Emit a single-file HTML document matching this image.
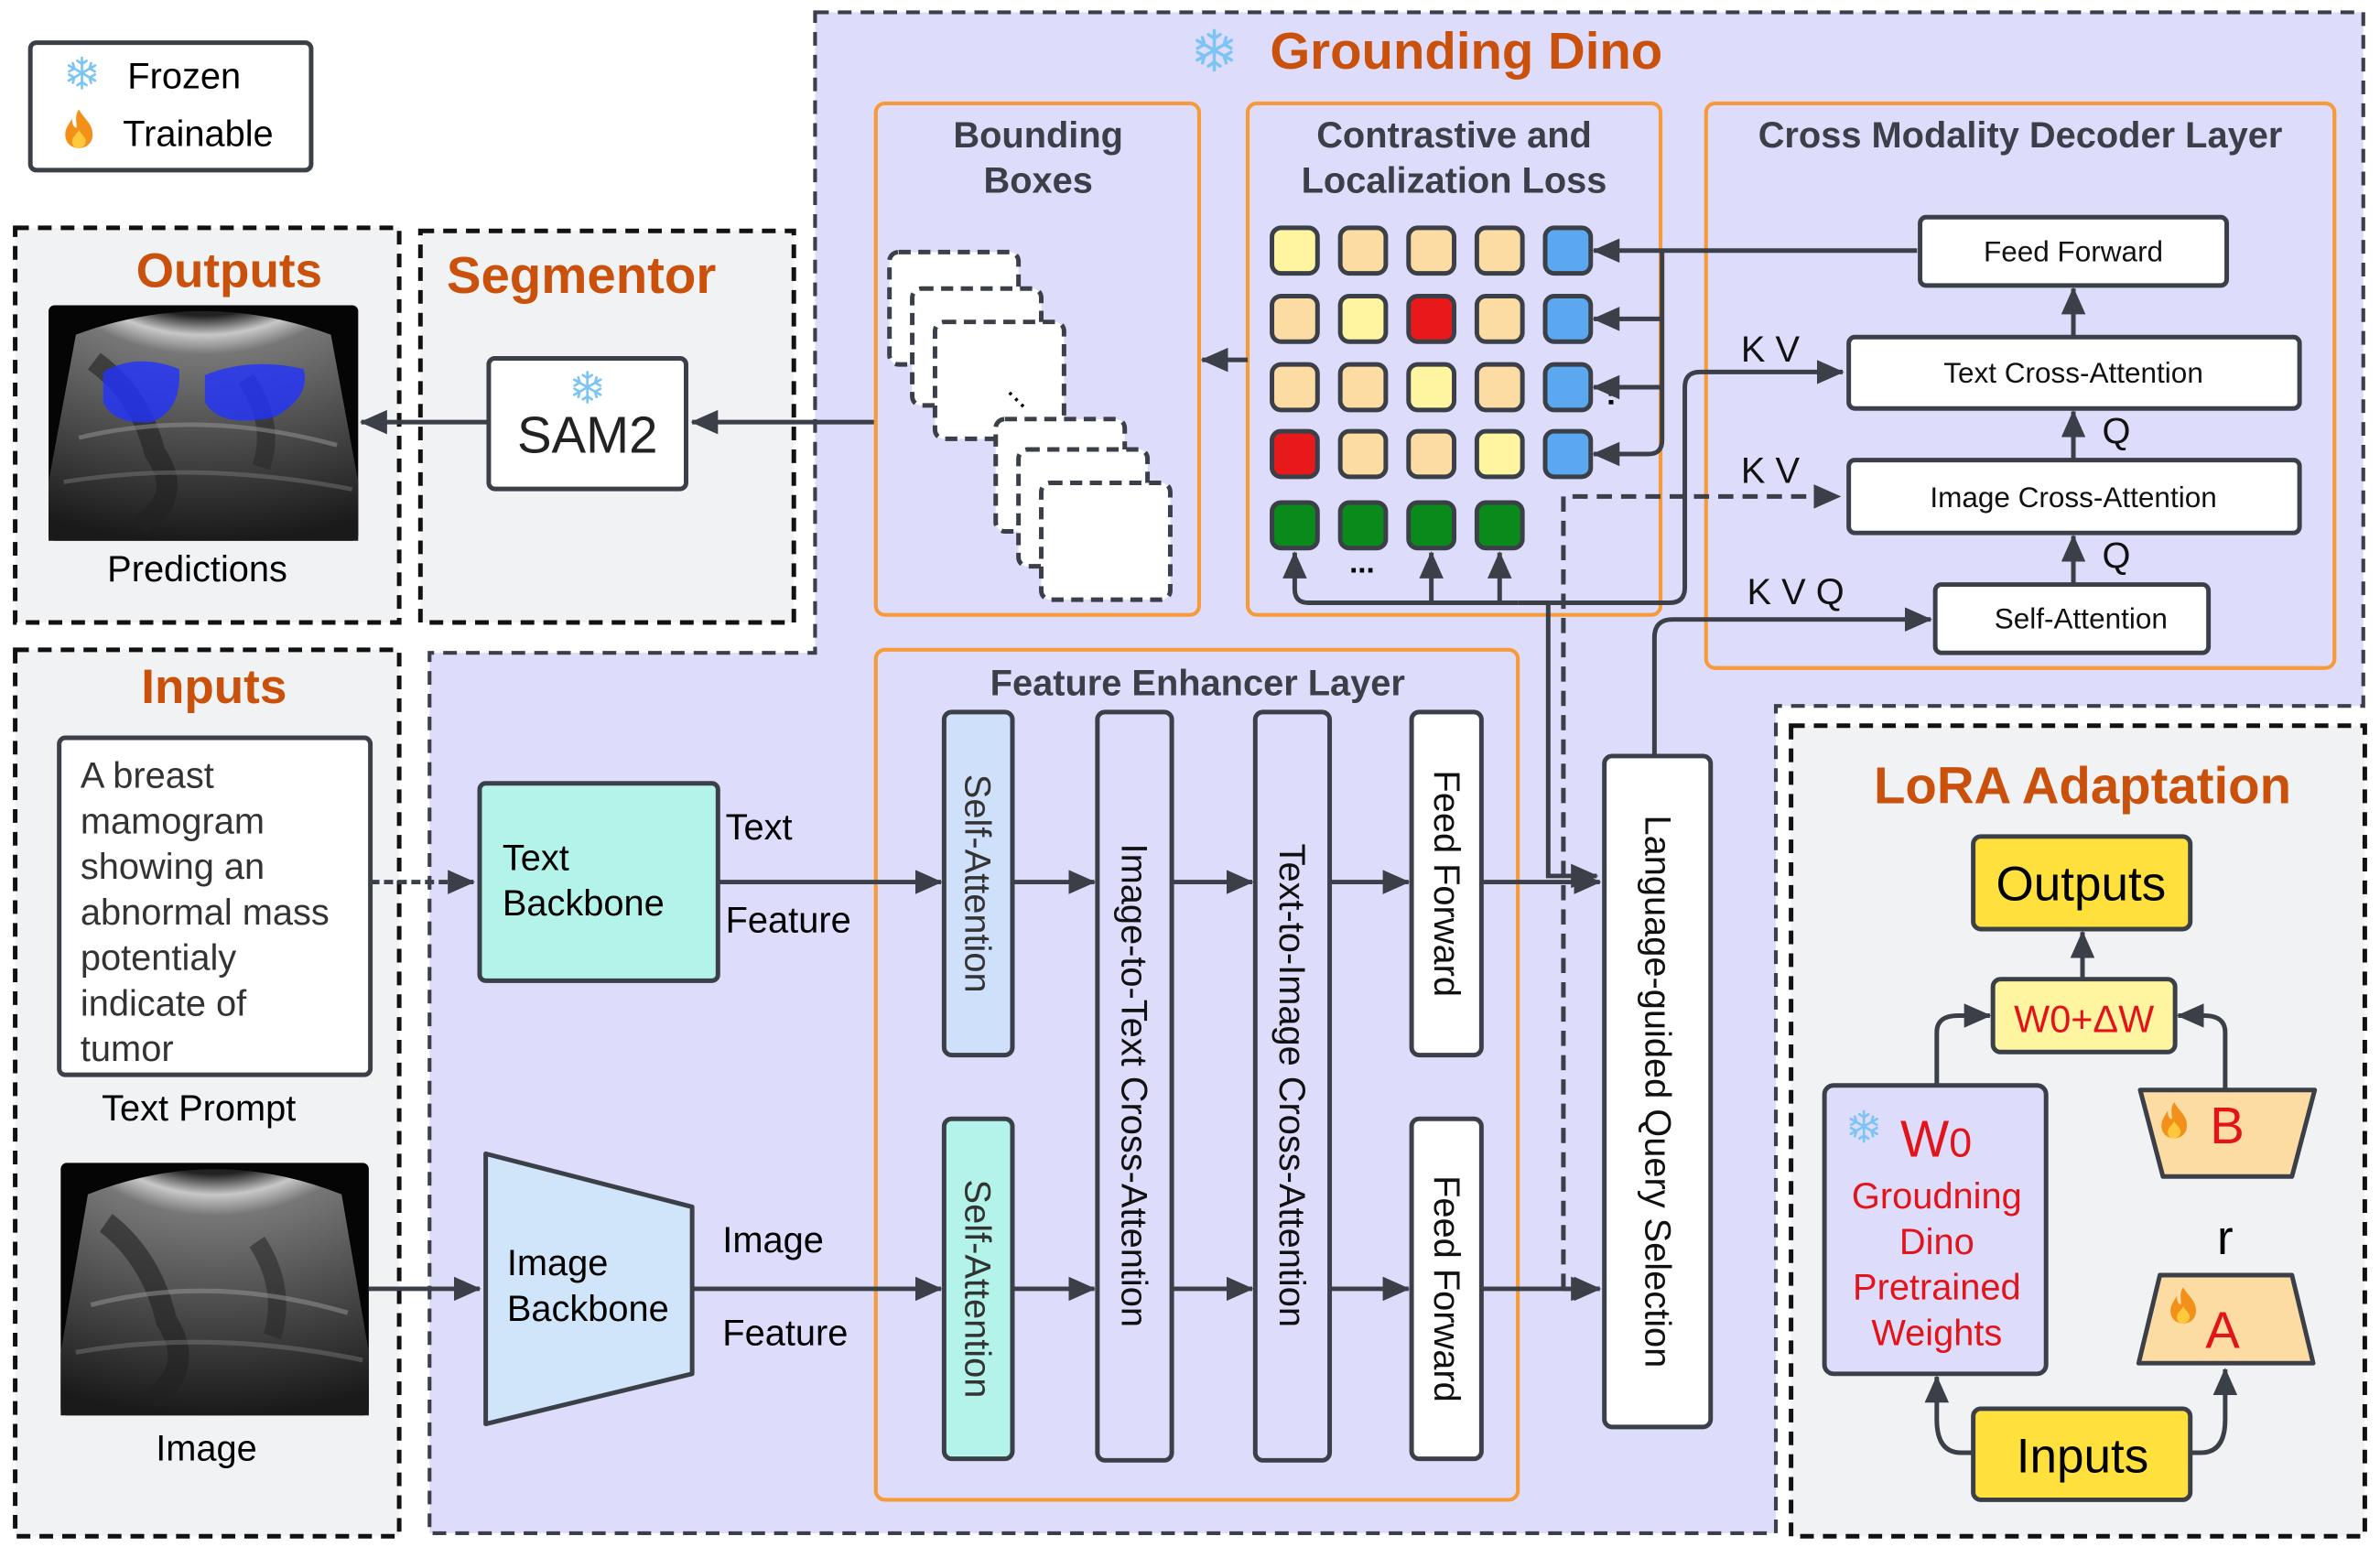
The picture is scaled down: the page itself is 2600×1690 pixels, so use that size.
<!DOCTYPE html>
<html><head><meta charset="utf-8"><style>
html,body{margin:0;padding:0;background:#fff}
svg{display:block}
text{font-family:"Liberation Sans",sans-serif}
</style></head><body>
<svg width="2600" height="1690" viewBox="0 0 1568 1019" xmlns="http://www.w3.org/2000/svg">
<defs>
<marker id="ar2" markerWidth="18" markerHeight="16" refX="17" refY="8" orient="auto" markerUnits="userSpaceOnUse" viewBox="0 0 18 16">
<path d="M0,0 L18,8 L0,16 z" fill="#3b4048"/></marker>
<radialGradient id="fan" cx="50%" cy="-40%" r="140%">
<stop offset="0.3" stop-color="#222"/><stop offset="0.36" stop-color="#c8c8c8"/><stop offset="0.42" stop-color="#777"/><stop offset="0.6" stop-color="#5a5a5a"/><stop offset="0.8" stop-color="#3a3a3a"/><stop offset="1" stop-color="#1a1a1a"/></radialGradient>
<g id="flame"><path d="M6,0 C8,4 12,6 12,11 C12,15 9,17 6,17 C3,17 0,15 0,11 C0,8 2,6 3,4 C3,7 4,8 5,8 C5,5 4,3 6,0z" fill="#f39019"/><path d="M6,9 C7,11 9,12 9,14 C9,16 7,17 6,17 C4,17 3,16 3,14 C3,12 5,11 6,9z" fill="#ffc83d"/></g>
<g id="snow" stroke="#7cc4f4" stroke-width="1.6" stroke-linecap="round" fill="none"><path d="M0,-10 V10 M-8.7,-5 L8.7,5 M-8.7,5 L8.7,-5 M-3,-8 L0,-6 L3,-8 M-3,8 L0,6 L3,8 M-8.5,-1 L-5,-3 L-6,-6.5 M8.5,1 L5,3 L6,6.5 M8.5,-1 L5,-3 L6,-6.5 M-8.5,1 L-5,3 L-6,6.5"/></g>
<g id="usimg">
<rect x="0" y="0" width="204" height="160" rx="4" fill="#050505"/>
<path d="M18,20 Q102,-12 186,20 L204,120 L204,160 L0,160 L0,120 Z" fill="url(#fan)"/>
<path d="M30,38 Q60,60 70,100 Q90,130 60,150" stroke="#222" stroke-width="14" fill="none" opacity="0.6"/>
<path d="M130,50 Q150,80 140,110" stroke="#2a2a2a" stroke-width="12" fill="none" opacity="0.6"/>
<path d="M20,90 Q100,70 190,95" stroke="#999" stroke-width="3" fill="none" opacity="0.5"/>
<path d="M10,120 Q100,105 200,125" stroke="#888" stroke-width="3" fill="none" opacity="0.4"/>
</g>
</defs>
<rect width="1568" height="1019" fill="#fff"/>

<path d="M537,8 H1557 V465 H1170 V1010 H283 V430 H537 Z" fill="#dddcfa" stroke="#3b4048" stroke-width="2.5" stroke-dasharray="9,6"/>
<rect x="10" y="150" width="253" height="260" fill="#f1f2f4" stroke="#111" stroke-width="3" stroke-dasharray="9,6"/>
<rect x="277" y="152" width="246" height="258" fill="#f1f2f4" stroke="#111" stroke-width="3" stroke-dasharray="9,6"/>
<rect x="10" y="428" width="253" height="584" fill="#f1f2f4" stroke="#111" stroke-width="3" stroke-dasharray="9,6"/>
<rect x="1180" y="478" width="378" height="534" fill="#f1f2f4" stroke="#111" stroke-width="3" stroke-dasharray="9,6"/>

<rect x="20" y="28" width="185" height="84" rx="4" fill="#fff" stroke="#3b4048" stroke-width="3"/>
<use href="#snow" x="54" y="48"/>
<text x="84" y="58" font-size="24">Frozen</text>
<use href="#flame" transform="translate(43,72) scale(1.5)"/>
<text x="81" y="96" font-size="24">Trainable</text>

<use href="#snow" transform="translate(800,33) scale(1.3)"/>
<text x="966" y="45" font-size="34" font-weight="bold" fill="#c9510c" text-anchor="middle">Grounding Dino</text>
<text x="151" y="189" font-size="32" font-weight="bold" fill="#c9510c" text-anchor="middle">Outputs</text>
<text x="383" y="193" font-size="34" font-weight="bold" fill="#c9510c" text-anchor="middle">Segmentor</text>
<text x="141" y="463" font-size="32" font-weight="bold" fill="#c9510c" text-anchor="middle">Inputs</text>
<text x="1372" y="529" font-size="34" font-weight="bold" fill="#c9510c" text-anchor="middle">LoRA Adaptation</text>

<use href="#usimg" transform="translate(32,201) scale(1,0.97)"/>
<path d="M68,245 Q90,232 118,243 Q120,270 100,278 Q75,280 68,265 Z" fill="#2233ff" opacity="0.8"/>
<path d="M135,247 Q165,235 200,243 Q205,262 180,275 Q145,282 135,265 Z" fill="#2233ff" opacity="0.8"/>
<text x="130" y="383" font-size="24" text-anchor="middle">Predictions</text>

<rect x="322" y="236" width="130" height="86" rx="4" fill="#fff" stroke="#3b4048" stroke-width="3"/>
<use href="#snow" x="387" y="255"/>
<text x="387" y="298" font-size="34" text-anchor="middle" fill="#222">SAM2</text>
<line x1="577" y1="278" x2="456" y2="278" stroke="#3b4048" stroke-width="3" marker-end="url(#ar2)"/>
<line x1="322" y1="278" x2="238" y2="278" stroke="#3b4048" stroke-width="3" marker-end="url(#ar2)"/>

<rect x="39" y="486" width="205" height="222" rx="4" fill="#fff" stroke="#3b4048" stroke-width="3"/>
<g font-size="24" fill="#333"><text x="53" y="519">A breast</text><text x="53" y="549">mamogram</text><text x="53" y="579">showing an</text><text x="53" y="609">abnormal mass</text><text x="53" y="639">potentialy</text><text x="53" y="669">indicate of</text><text x="53" y="699">tumor</text></g>
<text x="131" y="738" font-size="24" text-anchor="middle">Text Prompt</text>
<use href="#usimg" transform="translate(40,766) scale(0.995,1.04)"/>
<text x="136" y="962" font-size="24" text-anchor="middle">Image</text>
<line x1="244" y1="581" x2="312" y2="581" stroke="#3b4048" stroke-width="3" stroke-dasharray="6,3" marker-end="url(#ar2)"/>
<line x1="243" y1="849" x2="316" y2="849" stroke="#3b4048" stroke-width="3" marker-end="url(#ar2)"/>

<rect x="316" y="516" width="157" height="130" rx="4" fill="#b3f3ea" stroke="#3b4048" stroke-width="3"/>
<text x="331" y="573" font-size="24">Text</text><text x="331" y="603" font-size="24">Backbone</text>
<path d="M320,760 L456,795 L456,905 L320,938 Z" fill="#d0e4fa" stroke="#3b4048" stroke-width="3" stroke-linejoin="round"/>
<text x="334" y="840" font-size="24">Image</text><text x="334" y="870" font-size="24">Backbone</text>
<text x="478" y="553" font-size="24">Text</text><text x="478" y="614" font-size="24">Feature</text>
<text x="476" y="825" font-size="24">Image</text><text x="476" y="886" font-size="24">Feature</text>

<rect x="577" y="428" width="423" height="560" rx="6" fill="none" stroke="#f79a3a" stroke-width="2.5"/>
<text x="789" y="458" font-size="24" font-weight="bold" fill="#3b4048" text-anchor="middle">Feature Enhancer Layer</text>
<rect x="622" y="469" width="45" height="226" rx="5" fill="#cfe0fa" stroke="#3b4048" stroke-width="3"/>
<rect x="622" y="737" width="45" height="224" rx="5" fill="#b3f3ea" stroke="#3b4048" stroke-width="3"/>
<rect x="723" y="469" width="49" height="493" rx="5" fill="#dddcfa" stroke="#3b4048" stroke-width="3"/>
<rect x="827" y="469" width="49" height="493" rx="5" fill="#dddcfa" stroke="#3b4048" stroke-width="3"/>
<rect x="930" y="469" width="46" height="226" rx="5" fill="#fff" stroke="#3b4048" stroke-width="3"/>
<rect x="930" y="737" width="46" height="224" rx="5" fill="#fff" stroke="#3b4048" stroke-width="3"/>
<g font-size="24" fill="#333">
<text transform="translate(636,582) rotate(90)" text-anchor="middle">Self-Attention</text>
<text transform="translate(636,849) rotate(90)" text-anchor="middle">Self-Attention</text>
<text transform="translate(739,715) rotate(90)" text-anchor="middle" fill="#111">Image-to-Text Cross-Attention</text>
<text transform="translate(843,715) rotate(90)" text-anchor="middle" fill="#111">Text-to-Image Cross-Attention</text>
<text transform="translate(945,582) rotate(90)" text-anchor="middle" fill="#111">Feed Forward</text>
<text transform="translate(945,849) rotate(90)" text-anchor="middle" fill="#111">Feed Forward</text>
</g>
<g stroke="#3b4048" stroke-width="3" marker-end="url(#ar2)">
<line x1="473" y1="581" x2="620" y2="581"/><line x1="667" y1="581" x2="721" y2="581"/><line x1="772" y1="581" x2="825" y2="581"/><line x1="876" y1="581" x2="928" y2="581"/>
<line x1="456" y1="849" x2="620" y2="849"/><line x1="667" y1="849" x2="721" y2="849"/><line x1="772" y1="849" x2="825" y2="849"/><line x1="876" y1="849" x2="928" y2="849"/>
<line x1="976" y1="581" x2="1054" y2="581"/><line x1="976" y1="849" x2="1054" y2="849"/>
</g>

<rect x="1057" y="498" width="70" height="442" rx="5" fill="#fff" stroke="#3b4048" stroke-width="3"/>
<text transform="translate(1084,719) rotate(90)" font-size="24" text-anchor="middle" fill="#111">Language-guided Query Selection</text>

<rect x="577" y="68" width="213" height="337" rx="6" fill="none" stroke="#f79a3a" stroke-width="2.5"/>
<text x="684" y="97" font-size="24" font-weight="bold" fill="#3b4048" text-anchor="middle">Bounding</text>
<text x="684" y="127" font-size="24" font-weight="bold" fill="#3b4048" text-anchor="middle">Boxes</text>
<g fill="#fff" stroke="#3b4048" stroke-width="3" stroke-dasharray="8,5">
<rect x="586" y="166" width="85" height="74" rx="6"/><rect x="601" y="190" width="85" height="77" rx="6"/><rect x="616" y="212" width="85" height="77" rx="6"/>
<rect x="656" y="276" width="85" height="74" rx="6"/><rect x="671" y="296" width="85" height="77" rx="6"/><rect x="686" y="318" width="85" height="77" rx="6"/>
</g>
<text x="663" y="258" font-size="20" transform="rotate(45 663 258)">...</text>

<rect x="822" y="68" width="272" height="337" rx="6" fill="none" stroke="#f79a3a" stroke-width="2.5"/>
<text x="958" y="97" font-size="24" font-weight="bold" fill="#3b4048" text-anchor="middle">Contrastive and</text>
<text x="958" y="127" font-size="24" font-weight="bold" fill="#3b4048" text-anchor="middle">Localization Loss</text>
<g stroke="#3b4048" stroke-width="3">
<rect x="838" y="150" width="30" height="30" rx="6" fill="#fff5a0"/><rect x="883" y="150" width="30" height="30" rx="6" fill="#fddca3"/><rect x="928" y="150" width="30" height="30" rx="6" fill="#fddca3"/><rect x="973" y="150" width="30" height="30" rx="6" fill="#fddca3"/><rect x="1018" y="150" width="30" height="30" rx="6" fill="#5ba7f0"/>
<rect x="838" y="195" width="30" height="30" rx="6" fill="#fddca3"/><rect x="883" y="195" width="30" height="30" rx="6" fill="#fff5a0"/><rect x="928" y="195" width="30" height="30" rx="6" fill="#e8191a"/><rect x="973" y="195" width="30" height="30" rx="6" fill="#fddca3"/><rect x="1018" y="195" width="30" height="30" rx="6" fill="#5ba7f0"/>
<rect x="838" y="240" width="30" height="30" rx="6" fill="#fddca3"/><rect x="883" y="240" width="30" height="30" rx="6" fill="#fddca3"/><rect x="928" y="240" width="30" height="30" rx="6" fill="#fff5a0"/><rect x="973" y="240" width="30" height="30" rx="6" fill="#fddca3"/><rect x="1018" y="240" width="30" height="30" rx="6" fill="#5ba7f0"/>
<rect x="838" y="284" width="30" height="30" rx="6" fill="#e8191a"/><rect x="883" y="284" width="30" height="30" rx="6" fill="#fddca3"/><rect x="928" y="284" width="30" height="30" rx="6" fill="#fddca3"/><rect x="973" y="284" width="30" height="30" rx="6" fill="#fff5a0"/><rect x="1018" y="284" width="30" height="30" rx="6" fill="#5ba7f0"/>
<rect x="838" y="331" width="30" height="30" rx="6" fill="#0a8a1a"/><rect x="883" y="331" width="30" height="30" rx="6" fill="#0a8a1a"/><rect x="928" y="331" width="30" height="30" rx="6" fill="#0a8a1a"/><rect x="973" y="331" width="30" height="30" rx="6" fill="#0a8a1a"/>
</g>
<text x="889" y="377" font-size="20" font-weight="bold">...</text>
<text x="1059" y="262" font-size="20" font-weight="bold" transform="rotate(90 1065 257)">...</text>
<line x1="822" y1="237" x2="792" y2="237" stroke="#3b4048" stroke-width="3" marker-end="url(#ar2)"/>

<rect x="1124" y="68" width="414" height="372" rx="6" fill="none" stroke="#f79a3a" stroke-width="2.5"/>
<text x="1331" y="97" font-size="24" font-weight="bold" fill="#3b4048" text-anchor="middle">Cross Modality Decoder Layer</text>
<g fill="#fff" stroke="#3b4048" stroke-width="3">
<rect x="1265" y="143" width="202" height="45" rx="4"/><rect x="1218" y="222" width="297" height="47" rx="4"/><rect x="1218" y="303" width="297" height="48" rx="4"/><rect x="1275" y="385" width="180" height="45" rx="4"/>
</g>
<g font-size="19" text-anchor="middle" fill="#111"><text x="1366" y="172">Feed Forward</text><text x="1366" y="252">Text Cross-Attention</text><text x="1366" y="334">Image Cross-Attention</text><text x="1371" y="414">Self-Attention</text></g>
<g font-size="24" fill="#111"><text x="1147" y="238">K V</text><text x="1147" y="318">K V</text><text x="1151" y="398">K V Q</text><text x="1385" y="292">Q</text><text x="1385" y="374">Q</text></g>
<g stroke="#3b4048" stroke-width="3" fill="none" marker-end="url(#ar2)">
<line x1="1366" y1="303" x2="1366" y2="271"/><line x1="1366" y1="222" x2="1366" y2="190"/><line x1="1366" y1="385" x2="1366" y2="353"/>
<line x1="1263" y1="165" x2="1050" y2="165"/>
<path d="M1095,165 V290 Q1095,299 1086,299 H1050"/>
<path d="M1095,210 H1050"/>
<path d="M1095,255 H1050"/>
<path d="M1090,498 V420 Q1090,408 1102,408 H1272"/>
<path d="M1000,397 H1100 Q1110,397 1110,387 V255 Q1110,245 1120,245 H1214"/>
<path d="M1000,397 H862 Q853,397 853,388 V364"/>
<path d="M943,397 V364"/><path d="M988,397 V364"/>
<path d="M1020,397 V577 H1052"/>
<path d="M1030,849 H1052"/>
</g>
<path d="M1030,849 V327 H1212" fill="none" stroke="#3b4048" stroke-width="3" stroke-dasharray="10,6" marker-end="url(#ar2)"/>

<rect x="1300" y="551" width="143" height="61" rx="5" fill="#ffe03c" stroke="#3b4048" stroke-width="3"/>
<text x="1371" y="593" font-size="32" text-anchor="middle">Outputs</text>
<rect x="1313" y="645" width="120" height="48" rx="5" fill="#fff5a0" stroke="#3b4048" stroke-width="3"/>
<text x="1373" y="680" font-size="25" text-anchor="middle" fill="#e3131a">W0+ΔW</text>
<rect x="1202" y="715" width="146" height="190" rx="6" fill="#dddcfa" stroke="#3b4048" stroke-width="3"/>
<use href="#snow" x="1228" y="742"/>
<text x="1252" y="762" font-size="34" fill="#e3131a">W<tspan font-size="27">0</tspan></text>
<g font-size="24" fill="#e3131a" text-anchor="middle"><text x="1276" y="796">Groudning</text><text x="1276" y="826">Dino</text><text x="1276" y="856">Pretrained</text><text x="1276" y="886">Weights</text></g>
<path d="M1410,718 L1525,718 L1510,775 L1425,775 Z" fill="#fddca3" stroke="#3b4048" stroke-width="3" stroke-linejoin="round"/>
<use href="#flame" transform="translate(1424,726) scale(1.4)"/>
<text x="1456" y="753" font-size="34" fill="#e3131a">B</text>
<text x="1466" y="826" font-size="32" text-anchor="middle">r</text>
<path d="M1423,840 L1510,840 L1524,898 L1409,898 Z" fill="#fddca3" stroke="#3b4048" stroke-width="3" stroke-linejoin="round"/>
<use href="#flame" transform="translate(1430,848) scale(1.4)"/>
<text x="1453" y="888" font-size="34" fill="#e3131a">A</text>
<rect x="1300" y="928" width="143" height="60" rx="5" fill="#ffe03c" stroke="#3b4048" stroke-width="3"/>
<text x="1372" y="970" font-size="32" text-anchor="middle">Inputs</text>
<g stroke="#3b4048" stroke-width="3" fill="none" marker-end="url(#ar2)">
<line x1="1372" y1="645" x2="1372" y2="614"/>
<path d="M1276,715 V680 Q1276,669 1290,669 H1311"/>
<path d="M1466,718 V680 Q1466,669 1452,669 H1435"/>
<path d="M1300,957 H1292 Q1276,957 1276,935 V907"/>
<path d="M1443,957 H1450 Q1466,957 1466,935 V902"/>
</g>
</svg>
</body></html>
